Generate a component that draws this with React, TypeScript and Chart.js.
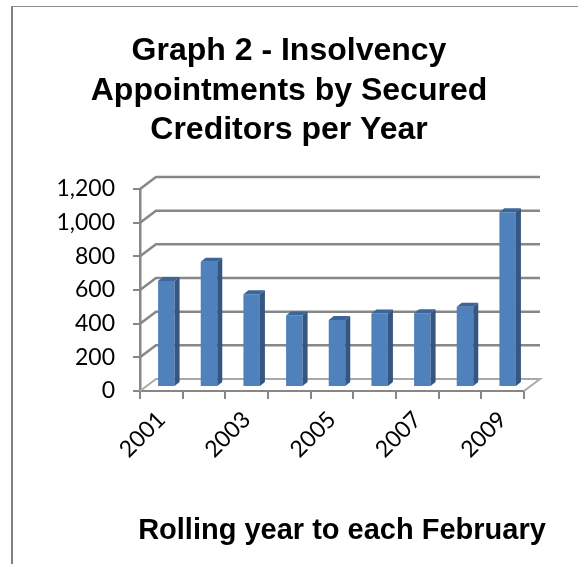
import React, { useEffect, useRef } from 'react';
import { Chart, registerables } from 'chart.js';

Chart.register(...registerables);

const titleLines = ['Graph 2 - Insolvency', 'Appointments by Secured', 'Creditors per Year'];
const xAxisTitle = 'Rolling year to each February';
const years = ['2001', '2002', '2003', '2004', '2005', '2006', '2007', '2008', '2009'];
const appointments = [630, 744, 551, 424, 398, 436, 438, 477, 1038];
const yTickValues = [0, 200, 400, 600, 800, 1000, 1200];
const shownYearLabels = ['2001', '2003', '2005', '2007', '2009'];

const DEPTH_X = 16;
const DEPTH_Y = 12;
const BAR_DX = 5;
const BAR_DY = 4;
const SIDE_X = 5;
const SIDE_Y = 4;

const threeD = {
  id: 'threeD',
  beforeDatasetsDraw(chart: any) {
    const { ctx, chartArea, scales } = chart;
    const y = scales.y;
    const left = chartArea.left;
    const right = chartArea.right;
    ctx.save();
    yTickValues.forEach((v) => {
      const fy = y.getPixelForValue(v);
      const by = fy - DEPTH_Y;
      if (v === 0) {
        ctx.strokeStyle = '#a9a9a9';
        ctx.lineWidth = 2;
        ctx.beginPath();
        ctx.moveTo(left, fy);
        ctx.lineTo(left + DEPTH_X, by);
        ctx.lineTo(right + DEPTH_X, by);
        ctx.lineTo(right, fy);
        ctx.stroke();
      } else {
        ctx.strokeStyle = '#878787';
        ctx.lineWidth = 2.5;
        ctx.beginPath();
        ctx.moveTo(left, fy);
        ctx.lineTo(left + DEPTH_X, by);
        ctx.lineTo(right + DEPTH_X, by);
        ctx.stroke();
      }
    });
    ctx.restore();
    ctx.save();
    ctx.translate(BAR_DX, -BAR_DY);
  },
  afterDatasetsDraw(chart: any) {
    const { ctx } = chart;
    const meta = chart.getDatasetMeta(0);
    meta.data.forEach((bar: any) => {
      const { x, y, base, width } = bar.getProps(['x', 'y', 'base', 'width'], true);
      const l = x - width / 2;
      const r = x + width / 2;
      ctx.fillStyle = '#34567f';
      ctx.beginPath();
      ctx.moveTo(r, y);
      ctx.lineTo(r + SIDE_X, y - SIDE_Y);
      ctx.lineTo(r + SIDE_X, base - SIDE_Y);
      ctx.lineTo(r, base);
      ctx.closePath();
      ctx.fill();
      ctx.fillStyle = '#3c659a';
      ctx.beginPath();
      ctx.moveTo(l, y);
      ctx.lineTo(l + SIDE_X, y - SIDE_Y);
      ctx.lineTo(r + SIDE_X, y - SIDE_Y);
      ctx.lineTo(r, y);
      ctx.closePath();
      ctx.fill();
    });
    ctx.restore();
  },
  afterDraw(chart: any) {
    const { ctx, chartArea } = chart;
    ctx.save();
    ctx.fillStyle = '#000';
    ctx.font = 'bold 29px "Liberation Sans", Arial, sans-serif';
    ctx.textAlign = 'center';
    ctx.textBaseline = 'alphabetic';
    ctx.fillText(xAxisTitle, (chartArea.left + chartArea.right) / 2 + 10, chartArea.bottom + 148);
    ctx.restore();
  },
};

export default function App() {
  const canvasRef = useRef<HTMLCanvasElement | null>(null);

  useEffect(() => {
    const canvas = canvasRef.current;
    if (!canvas) return;
    const chart = new Chart(canvas, {
      type: 'bar',
      data: {
        labels: years,
        datasets: [
          {
            data: appointments,
            backgroundColor: '#4f81bd',
            borderWidth: 0,
            barPercentage: 0.387,
            categoryPercentage: 1,
          },
        ],
      },
      options: {
        responsive: false,
        animation: false,
        devicePixelRatio: 1,
        layout: { padding: { left: 0, right: 0, top: 0, bottom: 0 } },
        plugins: {
          legend: { display: false },
          tooltip: { enabled: false },
          title: {
            display: true,
            text: titleLines,
            color: '#000',
            font: { family: 'Liberation Sans', weight: 'bold', size: 32, lineHeight: 1.23 },
            padding: { top: 31.8, bottom: 39.1 },
          },
        },
        scales: {
          x: {
            type: 'category',
            offset: true,
            grid: {
              display: true,
              offset: true,
              drawOnChartArea: false,
              drawTicks: true,
              tickLength: 8,
              color: '#878787',
              lineWidth: 2,
            },
            border: { display: true, color: '#878787', width: 2 },
            ticks: {
              autoSkip: false,
              minRotation: 45,
              maxRotation: 45,
              padding: 7,
              color: '#000',
              font: { family: 'Lato', size: 23 },
              callback: (_v: any, i: number) => (shownYearLabels.includes(years[i]) ? years[i] : ''),
            },
            title: { display: false },
            afterFit: (s: any) => {
              s.height = 173;
            },
          },
          y: {
            min: 0,
            max: 1200,
            afterBuildTicks: (s: any) => {
              s.ticks = yTickValues.map((v) => ({ value: v }));
            },
            grid: {
              drawOnChartArea: false,
              drawTicks: true,
              tickLength: 7,
              color: '#878787',
              lineWidth: 2,
            },
            border: { display: true, color: '#878787', width: 2.5 },
            ticks: {
              padding: 18,
              color: '#000',
              font: { family: 'Lato', size: 23 },
              callback: (v: any) => Number(v).toLocaleString('en-US'),
            },
            afterFit: (s: any) => {
              s.width = 140;
            },
          },
          spacer: {
            type: 'linear',
            position: 'right',
            display: true,
            grid: { display: false, drawTicks: false },
            border: { display: false },
            ticks: { display: false },
            afterFit: (s: any) => {
              s.width = 54;
            },
          },
        },
      },
      plugins: [threeD],
    } as any);
    return () => chart.destroy();
  }, []);

  return (
    <div style={{ position: 'fixed', left: 0, top: 0, width: 578, height: 564, background: '#fff' }}>
      <div
        style={{
          position: 'absolute',
          left: 11,
          top: 6,
          right: 0,
          bottom: 0,
          borderLeft: '2px solid #808080',
          borderTop: '1px solid #8c8c8c',
        }}
      />
      <canvas ref={canvasRef} width={578} height={564} style={{ position: 'absolute', left: 0, top: 0, display: 'block' }} />
    </div>
  );
}
